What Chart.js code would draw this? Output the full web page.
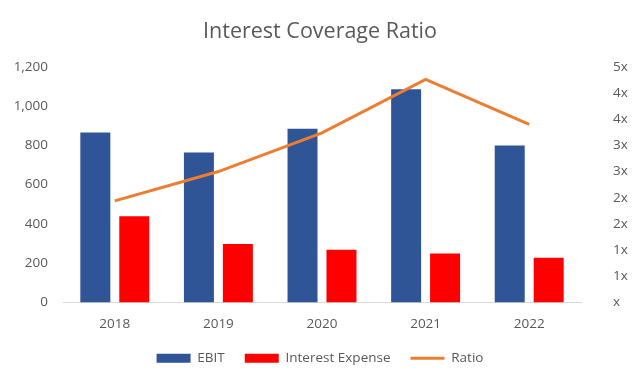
<!DOCTYPE html>
<html>
<head>
<meta charset="utf-8">
<script src="https://cdn.jsdelivr.net/npm/chart.js@4/dist/chart.umd.min.js"></script>
<style>
html,body{margin:0;padding:0;background:#fff;}
#wrap{width:640px;height:384px;}
</style>
</head>
<body>
<div id="wrap"><canvas id="c" width="640" height="384"></canvas></div>
<script>
const categories = ['2018', '2019', '2020', '2021', '2022'];
const ebit = [866, 764, 885, 1086, 799];
const interestExpense = [439, 298, 268, 249, 228];
const ratio = [1.94, 2.5, 3.24, 4.26, 3.40];
const ratioTickLabels = {0:'x',0.5:'1x',1:'1x',1.5:'2x',2:'2x',2.5:'3x',3:'3x',3.5:'4x',4:'4x',4.5:'5x'};

const FONT = "'Open Sans', 'Liberation Sans', sans-serif";
const GREY = '#595959';

new Chart(document.getElementById('c'), {
  data: {
    labels: categories,
    datasets: [
      {type:'line', label:'Ratio', data: ratio, yAxisID:'y2', borderColor:'#ED7D31', backgroundColor:'#ED7D31', borderWidth:3, pointRadius:0, tension:0, order:0},
      {type:'bar', label:'EBIT', data: ebit, yAxisID:'y', backgroundColor:'#2F5597', categoryPercentage:0.752, barPercentage:0.77, order:1},
      {type:'bar', label:'Interest Expense', data: interestExpense, yAxisID:'y', backgroundColor:'#FF0000', categoryPercentage:0.752, barPercentage:0.77, order:1}
    ]
  },
  options: {
    responsive:false,
    animation:false,
    layout:{padding:{left:0, right:0, top:4, bottom:9}},
    plugins:{
      title:{display:true, text:'Interest Coverage Ratio', color:GREY, font:{family:FONT, size:21.5, weight:'normal'}, padding:{top:15, bottom:22}},
      tooltip:{enabled:false},
      legend:{
        position:'bottom',
        labels:{
          color:GREY, font:{family:FONT, size:13.5},
          usePointStyle:true, pointStyleWidth:34, boxHeight:9, padding:20,
          generateLabels:(chart)=>{
            const order = [1,2,0];
            return order.map(i=>{
              const ds = chart.data.datasets[i];
              const isLine = ds.type==='line';
              return {text:ds.label, fillStyle:ds.backgroundColor, strokeStyle: isLine? ds.borderColor : ds.backgroundColor, lineWidth: isLine?3:0, pointStyle: isLine?'line':'rect', datasetIndex:i, fontColor:GREY};
            });
          }
        }
      }
    },
    scales:{
      x:{
        grid:{display:false, drawTicks:false},
        border:{display:true, color:'#D9D9D9', width:1},
        ticks:{color:GREY, font:{family:FONT, size:13.5}, padding:14},
        afterFit:(s)=>{ s.height = 29; }
      },
      y:{
        position:'left', min:0, max:1200,
        grid:{display:false, drawTicks:false}, border:{display:false},
        ticks:{stepSize:200, color:GREY, font:{family:FONT, size:13.5}, padding:15,
          callback:(v)=>v.toLocaleString('en-US')},
        afterFit:(s)=>{ s.width = 63; }
      },
      y2:{
        position:'right', min:0, max:4.5,
        grid:{display:false, drawTicks:false}, border:{display:false},
        ticks:{stepSize:0.5, color:GREY, font:{family:FONT, size:13.5}, padding:32,
          callback:(v)=>ratioTickLabels[Math.round(v*2)/2] ?? ''},
        afterFit:(s)=>{ s.width = 59; }
      }
    }
  }
});
</script>
</body>
</html>
